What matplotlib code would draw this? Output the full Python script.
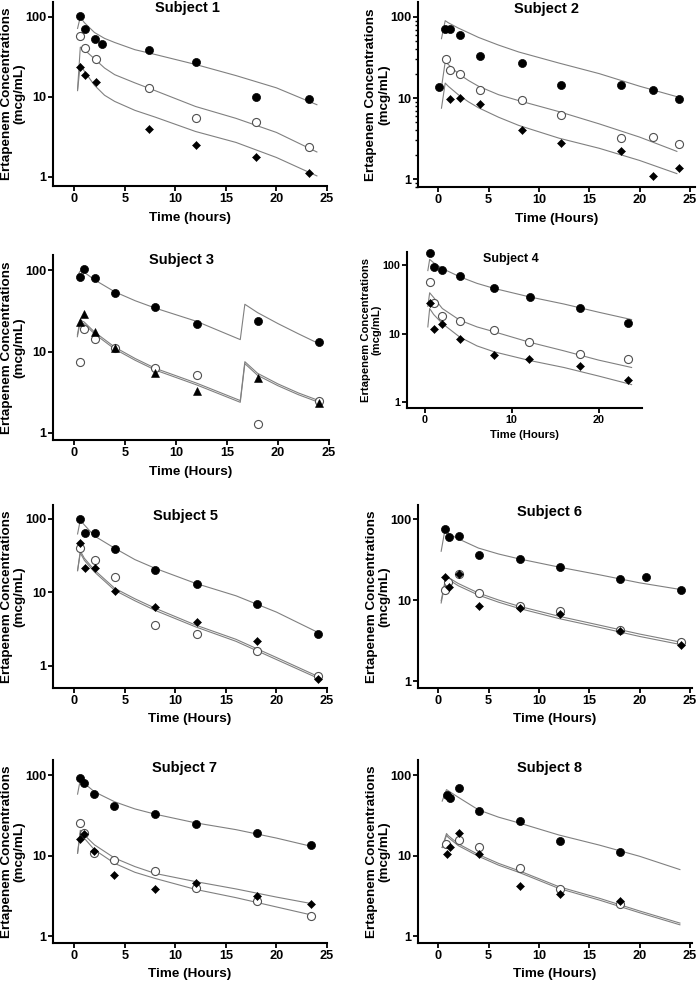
import matplotlib
matplotlib.use("Agg")
import matplotlib.pyplot as plt
from matplotlib.ticker import FixedLocator, NullLocator, LogLocator, NullFormatter

plt.rcParams['font.family'] = ['Liberation Sans', 'DejaVu Sans']
plt.rcParams['font.weight'] = 'bold'

# ---------------- Subject 1 ----------------
s1_filled_t = [0.6, 1.1, 2.1, 2.7, 7.4, 12.0, 18.0, 23.2]
s1_filled = [102, 70, 53, 46.5, 38.5, 27.5, 9.9, 9.5]
s1_open_t = [0.6, 1.1, 2.2, 7.4, 12.0, 18.0, 23.2]
s1_open = [58, 41.5, 30, 12.8, 5.4, 4.8, 2.34]
s1_diam_t = [0.6, 1.1, 2.2, 7.4, 12.0, 18.0, 23.2]
s1_diam = [23.4, 18.8, 15.5, 4.0, 2.5, 1.76, 1.11]
s1_fit_t = [0.33, 0.6, 1, 2, 3, 4, 6, 8, 12, 16, 20, 24]
s1_fit_a = [72, 100, 85, 64, 54, 48, 39, 34, 25.5, 18.5, 13, 8]
s1_fit_b = [12.5, 42, 39, 30, 23, 19, 15, 12, 7.6, 5.4, 3.6, 2.05]
s1_fit_c = [12, 26, 21, 14, 10.5, 8.8, 6.8, 5.6, 3.7, 2.7, 1.75, 1.03]

# ---------------- Subject 2 ----------------
s2_filled_t = [0.07, 0.66, 1.2, 2.2, 4.2, 8.3, 12.2, 18.2, 21.3, 23.9]
s2_filled = [13.5, 71, 71, 60, 32.6, 27, 14.3, 14.3, 12.6, 9.8]
s2_open_t = [0.76, 1.2, 2.2, 4.2, 8.3, 12.2, 18.2, 21.3, 23.9]
s2_open = [30.5, 21.9, 19.9, 12.4, 9.5, 6.1, 3.2, 3.3, 2.7]
s2_diam_t = [1.2, 2.2, 4.2, 8.3, 12.2, 18.2, 21.3, 23.9]
s2_diam = [9.8, 10.1, 8.5, 4.04, 2.76, 2.22, 1.09, 1.39]
s2_fit_t = [0.33, 0.7, 1, 2, 3, 4, 6, 8, 12, 16, 20, 23.7]
s2_fit_a = [54, 90, 85, 73, 64, 56, 45, 37, 27, 20, 14, 10.4]
s2_fit_b = [13.5, 28, 26, 20, 16.5, 14, 11, 9.3, 6.8, 4.8, 3.3, 2.2]
s2_fit_c = [7.5, 15.3, 14, 11, 9, 7.6, 5.8, 4.6, 3.2, 2.4, 1.7, 1.17]

# ---------------- Subject 3 ----------------
s3_filled_t = [0.6, 1.0, 2.1, 4.0, 7.9, 12.1, 18.0, 24.0]
s3_filled = [82.8, 103, 79, 53, 34.8, 21.7, 23.8, 13.2]
s3_open_t = [0.6, 1.0, 2.1, 4.0, 7.9, 12.1, 18.0, 24.0]
s3_open = [7.5, 18.7, 14.1, 10.9, 6.3, 5.1, 1.3, 2.5]
s3_tri_t = [0.6, 1.0, 2.1, 4.0, 7.9, 12.1, 18.0, 24.0]
s3_tri = [23.2, 28.8, 17.4, 10.9, 5.4, 3.3, 4.7, 2.35]
s3_fit_t = [0.33, 0.6, 1, 2, 4, 6, 8, 12, 16.3, 16.75, 18, 20, 22, 24]
s3_fit_a = [85, 97, 94, 76, 54, 42, 34, 23.5, 14, 38, 30, 22, 16.5, 12.5]
s3_fit_b = [16, 24.3, 23, 17.4, 11.3, 8.2, 6.2, 4.1, 2.5, 7.5, 5.4, 4.0, 3.1, 2.5]
s3_fit_c = [15.2, 23.0, 21.8, 16.5, 10.7, 7.8, 5.9, 3.9, 2.38, 7.1, 5.1, 3.8, 2.95, 2.38]

# ---------------- Subject 4 ----------------
s4_filled_t = [0.54, 1.0, 2.0, 4.0, 8.0, 12.05, 17.9, 23.4]
s4_filled = [151, 94.5, 84.5, 69, 45.5, 34.4, 23.7, 14.3]
s4_open_t = [0.54, 1.0, 2.0, 4.0, 8.0, 12.0, 17.9, 23.4]
s4_open = [55.7, 27.5, 17.9, 15.3, 11.4, 7.5, 5.1, 4.3]
s4_diam_t = [0.54, 1.0, 2.0, 4.0, 8.0, 12.0, 17.9, 23.4]
s4_diam = [27.5, 11.8, 13.7, 8.4, 4.8, 4.3, 3.37, 2.1]
s4_fit_t = [0.33, 0.54, 1, 2, 4, 6, 8, 12, 16, 20, 23.8]
s4_fit_a = [83, 121, 108, 89, 67.5, 54, 45.5, 34.4, 27, 20.5, 16]
s4_fit_b = [25, 39.4, 33.6, 23.2, 15.7, 12.5, 10.6, 7.5, 5.6, 4.1, 3.2]
s4_fit_c = [12.5, 23.2, 19, 14, 8.9, 6.6, 5.4, 4.06, 3.2, 2.4, 1.8]

# ---------------- Subject 5 ----------------
s5_filled_t = [0.6, 1.1, 2.1, 4.06, 7.95, 12.1, 18.1, 24.1]
s5_filled = [100, 65, 65, 38.7, 20.2, 12.9, 7.0, 2.73]
s5_open_t = [0.6, 2.1, 4.06, 7.95, 12.1, 18.1, 24.1]
s5_open = [39.9, 27.7, 16.4, 3.64, 2.73, 1.6, 0.72]
s5_diam_t = [0.6, 1.1, 2.1, 4.06, 7.95, 12.1, 18.1, 24.1]
s5_diam = [46.7, 21.3, 21.3, 10.3, 6.4, 3.9, 2.2, 0.66]
s5_fit_t = [0.33, 0.6, 1, 2, 4, 6, 8, 12, 16, 20, 24]
s5_fit_a = [62.5, 97, 83, 58.7, 40, 28, 21.3, 13.3, 9.0, 5.4, 2.9]
s5_fit_b = [19.8, 36.7, 29.2, 20.2, 11.4, 8.2, 6.1, 3.6, 2.3, 1.3, 0.73]
s5_fit_c = [19.8, 34.5, 27.4, 19, 10.7, 7.7, 5.7, 3.4, 2.16, 1.22, 0.69]

# ---------------- Subject 6 ----------------
s6_filled_t = [0.66, 1.06, 2.05, 4.03, 8.1, 12.05, 18.06, 20.6, 24.1]
s6_filled = [75, 59.3, 61, 36.2, 32.3, 25.5, 18.3, 19.0, 13.4]
s6_open_t = [0.66, 1.0, 2.05, 4.03, 8.1, 12.05, 18.06, 24.1]
s6_open = [13.4, 16.5, 20.9, 12.1, 8.4, 7.3, 4.3, 3.0]
s6_diam_t = [0.66, 1.06, 2.05, 4.03, 8.1, 12.05, 18.06, 24.1]
s6_diam = [19.2, 14.4, 20.9, 8.5, 7.9, 6.75, 4.2, 2.75]
s6_fit_t = [0.3, 0.66, 1, 2, 4, 6, 8, 12, 16, 20, 24.2]
s6_fit_a = [40, 72, 66, 57, 43.8, 37, 32.3, 25.5, 20.5, 16.3, 13.4]
s6_fit_b = [9.8, 16.5, 19, 16, 12.2, 10, 8.4, 6.3, 4.9, 3.8, 3.0]
s6_fit_c = [9.2, 15.5, 18, 15, 11.5, 9.4, 7.9, 5.9, 4.6, 3.55, 2.8]

# ---------------- Subject 7 ----------------
s7_filled_t = [0.53, 1.0, 2.0, 3.96, 7.95, 12.0, 18.1, 23.4]
s7_filled = [92.6, 80.3, 58, 41, 33.3, 25, 19.3, 13.4]
s7_open_t = [0.53, 1.0, 2.0, 3.96, 7.95, 12.0, 18.1, 23.4]
s7_open = [25.7, 19.3, 10.8, 8.8, 6.4, 4.0, 2.73, 1.78]
s7_diam_t = [0.53, 1.0, 2.0, 3.96, 7.95, 12.0, 18.1, 23.4]
s7_diam = [16.1, 18.3, 11.5, 5.7, 3.8, 4.5, 3.15, 2.5]
s7_fit_t = [0.33, 0.6, 1, 2, 4, 6, 8, 12, 16, 20, 23.7]
s7_fit_a = [58, 88, 79, 62, 46.6, 38, 32.7, 25.5, 21, 16.5, 12.8]
s7_fit_b = [10.7, 20.6, 18, 13.6, 9.3, 7.3, 6.0, 4.75, 3.85, 3.05, 2.5]
s7_fit_c = [10.7, 19.1, 16.4, 11.8, 8.0, 6.2, 5.2, 3.8, 3.0, 2.3, 1.8]

# ---------------- Subject 8 ----------------
s8_filled_t = [0.83, 1.16, 2.08, 4.1, 8.1, 12.1, 18.1]
s8_filled = [56.4, 52.2, 69.6, 35.6, 26.8, 15.1, 11.1]
s8_open_t = [0.8, 2.08, 4.1, 8.1, 12.1, 18.1]
s8_open = [13.8, 15.5, 12.7, 7.05, 3.8, 2.5]
s8_diam_t = [0.83, 1.16, 2.08, 4.1, 8.1, 12.1, 18.1]
s8_diam = [10.4, 12.6, 19.3, 10.5, 4.2, 3.35, 2.7]
s8_fit_t = [0.4, 0.83, 1, 2, 4, 6, 8, 12, 16, 20, 24]
s8_fit_a = [47.5, 66, 64, 53, 37, 30, 25.5, 18, 13.5, 9.8, 6.7]
s8_fit_b = [12.6, 18.8, 17.7, 14, 10.3, 8.0, 6.5, 4.1, 2.95, 2.05, 1.45]
s8_fit_c = [12.6, 17.8, 16.8, 13.3, 9.8, 7.6, 6.2, 3.9, 2.8, 1.95, 1.38]

subject_titles = ["Subject 1", "Subject 2", "Subject 3", "Subject 4",
                  "Subject 5", "Subject 6", "Subject 7", "Subject 8"]
xlabels = ["Time (hours)", "Time (Hours)", "Time (Hours)", "Time (Hours)",
           "Time (Hours)", "Time (Hours)", "Time (Hours)", "Time (Hours)"]
ylabel_text = "Ertapenem Concentrations\n(mcg/mL)"
yticks = [1, 10, 100]
ytick_labels = ["1", "10", "100"]

W, H = 700, 984
fig = plt.figure(figsize=(7.0, 9.84), dpi=100)

def rect(l, r, top, bot):
    return [l / W, 1 - bot / H, (r - l) / W, (bot - top) / H]

# layout: (pixel rect, xlim, ylim, xticks, title pos, small, minor ticks, ylabel x)
layouts = [
    (rect(53, 327, 2, 186), (-2.1, 25), (0.77, 154), [0, 5, 10, 15, 20, 25], (0.49, 0.97), False, False, -0.145),
    (rect(418, 695, 2, 187), (-2.0, 25.5), (0.80, 153), [0, 5, 10, 15, 20, 25], (0.463, 0.96), False, True, -0.145),
    (rect(53, 329, 255, 440), (-2.06, 25), (0.82, 153), [0, 5, 10, 15, 20, 25], (0.467, 0.975), False, False, -0.145),
    (rect(407, 642, 252, 408), (-2.07, 25), (0.82, 155), [0, 10, 20], (0.44, 0.955), True, False, -0.152),
    (rect(53, 327, 505, 688), (-2.1, 25), (0.50, 155), [0, 5, 10, 15, 20, 25], (0.485, 0.94), False, False, -0.145),
    (rect(418, 692, 505, 688), (-2.0, 25.2), (0.82, 149), [0, 5, 10, 15, 20, 25], (0.48, 0.96), False, False, -0.145),
    (rect(53, 327, 760, 943), (-2.1, 25), (0.82, 154), [0, 5, 10, 15, 20, 25], (0.48, 0.955), False, False, -0.145),
    (rect(418, 692, 760, 943), (-2.0, 25.2), (0.82, 154), [0, 5, 10, 15, 20, 25], (0.48, 0.955), False, False, -0.145),
]

LINE_C = '#808080'
LINE_W = 0.8

def fits(ax, t, curves):
    for c in curves:
        ax.plot(t, c, color=LINE_C, lw=LINE_W, zorder=2)

def filled(ax, t, v):
    ax.plot(t, v, 'o', ms=5.8, mfc='black', mec='black', mew=0.5, ls='none', zorder=4, clip_on=False)

def opened(ax, t, v):
    ax.plot(t, v, 'o', ms=5.8, mfc='white', mec='#505050', mew=0.8, ls='none', zorder=3, clip_on=False)

def diamond(ax, t, v):
    ax.plot(t, v, 'D', ms=3.9, mfc='black', mec='black', mew=0.4, ls='none', zorder=4, clip_on=False)

def triangle(ax, t, v):
    ax.plot(t, v, '^', ms=5.5, mfc='black', mec='black', mew=0.4, ls='none', zorder=4, clip_on=False)

axes = []
for i, (r, xl, yl, xt, tpos, small, minor, ylx) in enumerate(layouts):
    ax = fig.add_axes(r)
    ax.set_yscale('log')
    ax.set_xlim(*xl)
    ax.set_ylim(*yl)
    fs_tick = 7.8 if small else 9.2
    fs_lab = 8.1 if small else 9.7
    fs_title = 9.0 if small else 10.5
    ax.yaxis.set_major_locator(FixedLocator(yticks))
    ax.set_yticklabels(ytick_labels, fontsize=fs_tick, fontweight='bold')
    if minor:
        ax.yaxis.set_minor_locator(LogLocator(base=10, subs=[2, 3, 4, 5, 6, 7, 8, 9]))
        ax.yaxis.set_minor_formatter(NullFormatter())
        ax.tick_params(axis='y', which='minor', length=2.5, width=1.0, direction='out')
    else:
        ax.yaxis.set_minor_locator(NullLocator())
    ax.set_xticks(xt)
    ax.set_xticklabels([str(v) for v in xt], fontsize=fs_tick, fontweight='bold')
    ax.xaxis.set_minor_locator(NullLocator())
    for s in ['top', 'right']:
        ax.spines[s].set_visible(False)
    for s in ['left', 'bottom']:
        ax.spines[s].set_linewidth(1.5)
    ax.tick_params(axis='both', which='major', direction='out', length=3.5, width=1.3, pad=1.5)
    ax.patch.set_alpha(0)
    ax.text(tpos[0], tpos[1], subject_titles[i], transform=ax.transAxes, ha='center', va='center',
            fontsize=fs_title, fontweight='bold')
    ax.text(0.5, -0.172, xlabels[i], transform=ax.transAxes, ha='center', va='center',
            fontsize=fs_lab, fontweight='bold')
    ax.text(ylx, 0.5, ylabel_text, transform=ax.transAxes, ha='center', va='center',
            rotation=90, multialignment='center', fontsize=fs_lab, fontweight='bold',
            linespacing=1.1)
    axes.append(ax)

ax = axes[0]
fits(ax, s1_fit_t, [s1_fit_a, s1_fit_b, s1_fit_c])
filled(ax, s1_filled_t, s1_filled); opened(ax, s1_open_t, s1_open); diamond(ax, s1_diam_t, s1_diam)

ax = axes[1]
fits(ax, s2_fit_t, [s2_fit_a, s2_fit_b, s2_fit_c])
filled(ax, s2_filled_t, s2_filled); opened(ax, s2_open_t, s2_open); diamond(ax, s2_diam_t, s2_diam)

ax = axes[2]
fits(ax, s3_fit_t, [s3_fit_a, s3_fit_b, s3_fit_c])
filled(ax, s3_filled_t, s3_filled); opened(ax, s3_open_t, s3_open); triangle(ax, s3_tri_t, s3_tri)

ax = axes[3]
fits(ax, s4_fit_t, [s4_fit_a, s4_fit_b, s4_fit_c])
filled(ax, s4_filled_t, s4_filled); opened(ax, s4_open_t, s4_open); diamond(ax, s4_diam_t, s4_diam)

ax = axes[4]
fits(ax, s5_fit_t, [s5_fit_a, s5_fit_b, s5_fit_c])
filled(ax, s5_filled_t, s5_filled); opened(ax, s5_open_t, s5_open); diamond(ax, s5_diam_t, s5_diam)

ax = axes[5]
fits(ax, s6_fit_t, [s6_fit_a, s6_fit_b, s6_fit_c])
filled(ax, s6_filled_t, s6_filled); opened(ax, s6_open_t, s6_open); diamond(ax, s6_diam_t, s6_diam)

ax = axes[6]
fits(ax, s7_fit_t, [s7_fit_a, s7_fit_b, s7_fit_c])
filled(ax, s7_filled_t, s7_filled); opened(ax, s7_open_t, s7_open); diamond(ax, s7_diam_t, s7_diam)

ax = axes[7]
fits(ax, s8_fit_t, [s8_fit_a, s8_fit_b, s8_fit_c])
filled(ax, s8_filled_t, s8_filled); opened(ax, s8_open_t, s8_open); diamond(ax, s8_diam_t, s8_diam)

fig.savefig('out.png', dpi=100, facecolor='white')
